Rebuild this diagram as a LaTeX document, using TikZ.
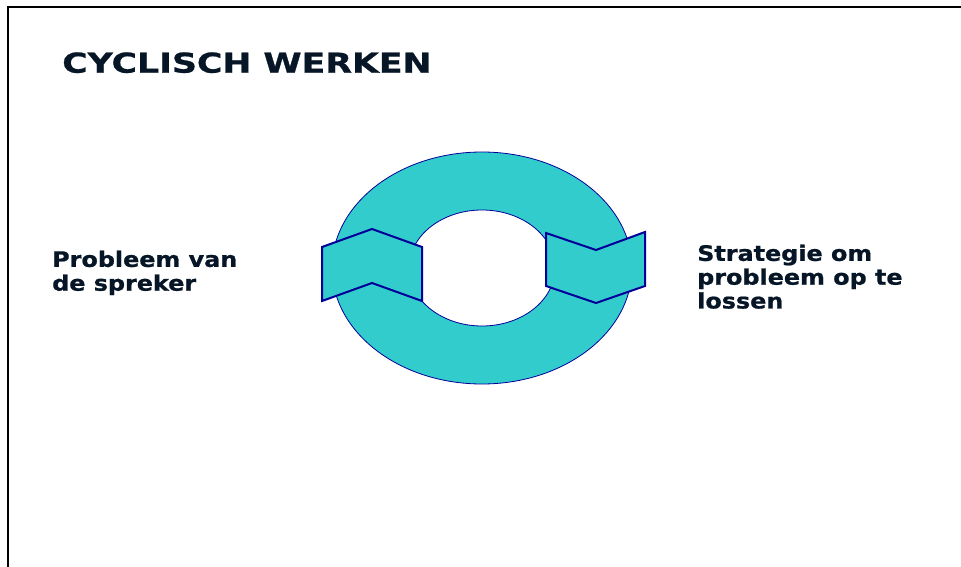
\documentclass[tikz,border=0pt]{standalone}
\usepackage{fontspec}
\setmainfont{DejaVu Sans}
\newfontfamily\heavyfont{DejaVu Sans Bold}[FakeBold=0.8]
\definecolor{teal1}{HTML}{33CCCC}
\definecolor{navy1}{HTML}{000099}
\definecolor{ink}{HTML}{061626}
\begin{document}
\begin{tikzpicture}[x=1pt,y=-1pt,
  lbl/.style={anchor=north west,inner sep=0pt,align=left,text=ink,xscale=1.12,font=\heavyfont\fontsize{21.3}{23.8}\selectfont},
  ttl/.style={anchor=base west,inner sep=0pt,xscale=1.265,font=\heavyfont\fontsize{27.4}{30}\selectfont},
  band/.style={fill=teal1,draw=navy1,line width=2pt,line join=miter}]
\useasboundingbox (0,0) rectangle (961,567);
\fill[white] (0,0) rectangle (961,567);
\draw[line width=2.2pt,black] (961,7) -- (8,7) -- (8,567);
% ring
\path[fill=teal1,draw=navy1,line width=0.8pt,even odd rule]
  (482,268) ellipse [x radius=150,y radius=116]
  (482,268) ellipse [x radius=73,y radius=58];
% chevron bands
\draw[band] (322,247) -- (372,229) -- (422,247) -- (422,301) -- (372,283) -- (322,301) -- cycle;
\draw[band] (546,233) -- (596,250) -- (645,232) -- (645,286) -- (596,303) -- (546,286) -- cycle;
% title
\node[ttl,text=ink] (title) at (62,72.7) {CYCLISCH WERKEN};
\node[lbl] (left) at (52,250.5) {Probleem van\\de spreker};
\node[lbl] (right) at (697,244.5) {Strategie om\\probleem op te\\lossen};
\end{tikzpicture}
\end{document}
